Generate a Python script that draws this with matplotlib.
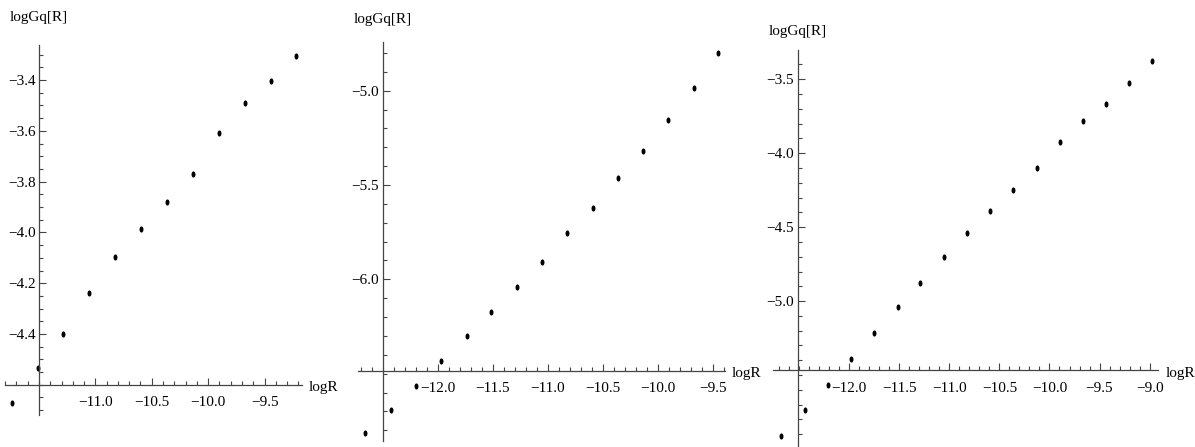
import numpy as np
import matplotlib
matplotlib.use("Agg")
import matplotlib.pyplot as plt
from matplotlib.path import Path
from matplotlib.ticker import FixedLocator, MultipleLocator, FuncFormatter

plt.rcParams['font.family'] = ['Liberation Serif', 'DejaVu Serif']

# three runs: log R against log Gq[R]
logR_1 = [-11.742, -11.512, -11.290, -11.057, -10.826, -10.593,
          -10.365, -10.135, -9.904, -9.674, -9.443, -9.222]
logG_1 = [-4.670, -4.535, -4.399, -4.240, -4.097, -3.985,
          -3.880, -3.770, -3.610, -3.489, -3.403, -3.306]

logR_2 = [-12.661, -12.427, -12.200, -11.973, -11.736, -11.515, -11.282, -11.049,
          -10.827, -10.591, -10.358, -10.136, -9.904, -9.670, -9.449]
logG_2 = [-6.817, -6.695, -6.566, -6.435, -6.301, -6.172, -6.039, -5.907,
          -5.756, -5.624, -5.461, -5.317, -5.155, -4.984, -4.802]

logR_3 = [-12.682, -12.443, -12.216, -11.986, -11.750, -11.513, -11.294, -11.057,
          -10.821, -10.594, -10.362, -10.128, -9.895, -9.668, -9.436, -9.203, -8.976]
logG_3 = [-5.915, -5.739, -5.568, -5.390, -5.216, -5.041, -4.878, -4.703,
          -4.541, -4.388, -4.248, -4.097, -3.922, -3.782, -3.667, -3.525, -3.374]

xticks_1 = [-11.0, -10.5, -10.0, -9.5]
yticks_1 = [-3.4, -3.6, -3.8, -4.0, -4.2, -4.4]
xticks_2 = [-12.0, -11.5, -11.0, -10.5, -10.0, -9.5]
yticks_2 = [-5.0, -5.5, -6.0]
xticks_3 = [-12.0, -11.5, -11.0, -10.5, -10.0, -9.5, -9.0]
yticks_3 = [-3.5, -4.0, -4.5, -5.0]

xlabel = "logR"
ylabel = "logGq[R]"

W, H = 1195, 447
fig = plt.figure(figsize=(W / 100, H / 100), dpi=100)

# slightly tall dot, like the exported graphic
t = np.linspace(0, 2 * np.pi, 41)
dot = Path(np.column_stack([0.65 * np.cos(t), np.sin(t)]), closed=True)

axis_col = '#444444'
fs = 11
fmt = FuncFormatter(lambda v, p: f"{v:.1f}".replace("-", "\u2212"))

panels = [
    # data, ticks, pixel box (left, right, top, bottom), limits, origin, minor steps, label offset
    dict(x=logR_1, y=logG_1, xt=xticks_1, yt=yticks_1,
         box=(5, 301.7, 45, 415), xlim=(-11.801, -9.171), ylim=(-4.719, -3.262),
         origin=(-11.5, -4.6), minor=(0.1, 0.05), lab=27),
    dict(x=logR_2, y=logG_2, xt=xticks_2, yt=yticks_2,
         box=(358.3, 725, 41.7, 441), xlim=(-12.722, -9.388), ylim=(-6.857, -4.740),
         origin=(-12.5, -6.485), minor=(0.1, 0.1), lab=22),
    dict(x=logR_3, y=logG_3, xt=xticks_3, yt=yticks_3,
         box=(773.3, 1158.3, 50, 446), xlim=(-12.759, -8.913), ylim=(-5.980, -3.302),
         origin=(-12.515, -5.469), minor=(0.1, 0.1), lab=18),
]

for p in panels:
    l, r, top, bot = p['box']
    ax = fig.add_axes([l / W, 1 - bot / H, (r - l) / W, (bot - top) / H])
    ax.patch.set_alpha(0)
    ax.plot(p['x'], p['y'], linestyle='none', marker=dot, markersize=4.4,
            color='black', markeredgewidth=0)
    ax.set_xlim(*p['xlim'])
    ax.set_ylim(*p['ylim'])

    x0, y0 = p['origin']
    for side in ['top', 'right']:
        ax.spines[side].set_visible(False)
    ax.spines['left'].set_position(('data', x0))
    ax.spines['bottom'].set_position(('data', y0))
    for side in ['left', 'bottom']:
        ax.spines[side].set_color(axis_col)
        ax.spines[side].set_linewidth(0.9)

    ax.xaxis.set_major_locator(FixedLocator(p['xt']))
    ax.yaxis.set_major_locator(FixedLocator(p['yt']))
    ax.xaxis.set_minor_locator(MultipleLocator(p['minor'][0]))
    ax.yaxis.set_minor_locator(MultipleLocator(p['minor'][1]))
    ax.xaxis.set_major_formatter(fmt)
    ax.yaxis.set_major_formatter(fmt)

    ax.tick_params(which='both', direction='in', color=axis_col, width=0.8,
                   labelsize=fs, labelcolor='black')
    ax.tick_params(which='major', length=5)
    ax.tick_params(which='minor', length=2.8)
    ax.tick_params(axis='x', pad=8)
    ax.tick_params(axis='y', pad=2.5)

    ax.annotate(ylabel, xy=(x0, p['ylim'][1]), xytext=(0, p['lab'] * 0.72),
                textcoords='offset points', ha='center', va='center', fontsize=fs)
    ax.annotate(xlabel, xy=(p['xlim'][1], y0), xytext=(5, -2),
                textcoords='offset points', ha='left', va='center', fontsize=fs)

fig.savefig("out.png", dpi=100)
